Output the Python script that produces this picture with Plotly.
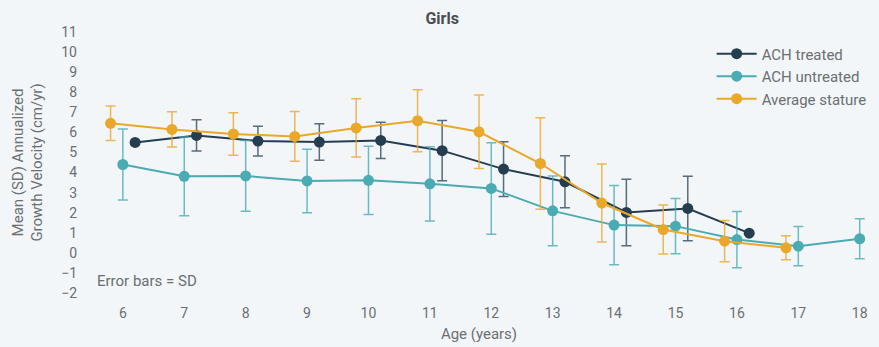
import plotly.graph_objects as go

# Age groups (years)
ages_treated = [6, 7, 8, 9, 10, 11, 12, 13, 14, 15, 16]
ages_untreated = [6, 7, 8, 9, 10, 11, 12, 13, 14, 15, 16, 17, 18]
ages_average = [6, 7, 8, 9, 10, 11, 12, 13, 14, 15, 16, 17]

# Mean annualized growth velocity (cm/yr) and SD
treated_mean = [5.50, 5.85, 5.57, 5.52, 5.60, 5.09, 4.17, 3.54, 2.01, 2.21, 0.98]
treated_sd = [0.0, 0.78, 0.74, 0.91, 0.90, 1.50, 1.36, 1.30, 1.66, 1.61, 0.0]

untreated_mean = [4.40, 3.81, 3.83, 3.58, 3.61, 3.44, 3.21, 2.09, 1.38, 1.33, 0.66, 0.33, 0.70]
untreated_sd = [1.77, 1.96, 1.76, 1.58, 1.70, 1.85, 2.28, 1.74, 1.98, 1.38, 1.40, 0.98, 1.00]

average_mean = [6.45, 6.15, 5.92, 5.80, 6.22, 6.58, 6.03, 4.45, 2.48, 1.16, 0.58, 0.25]
average_sd = [0.86, 0.88, 1.06, 1.24, 1.45, 1.54, 1.83, 2.28, 1.94, 1.22, 1.03, 0.60]

y_ticks = list(range(-2, 12))
x_ticks = list(range(6, 19))

NAVY = "#243d4f"
TEAL = "#4aabb3"
ORANGE = "#e9a82a"
BG = "#f2f6f9"
GREY = "#6b6f72"
FONT = "Roboto, sans-serif"

series = [
    ("ACH treated", ages_treated, treated_mean, treated_sd, NAVY, 0.2, "rgba(36,61,79,0.75)"),
    ("ACH untreated", ages_untreated, untreated_mean, untreated_sd, TEAL, 0.0, "rgba(74,171,179,0.8)"),
    ("Average stature", ages_average, average_mean, average_sd, ORANGE, -0.2, "rgba(233,168,42,0.8)"),
]

fig = go.Figure()
for name, ages, mean, sd, color, dodge, err_color in series:
    fig.add_trace(go.Scatter(
        x=[a + dodge for a in ages],
        y=mean,
        name=name,
        mode="lines+markers",
        line=dict(color=color, width=2),
        marker=dict(color=color, size=11),
        error_y=dict(type="data", array=sd, visible=True, color=err_color,
                     thickness=1.5, width=5),
    ))

fig.add_annotation(
    x=0.012, y=0.04, xref="paper", yref="paper",
    text="Error bars = SD", showarrow=False,
    xanchor="left", yanchor="bottom",
    font=dict(family=FONT, size=15, color=GREY),
)

fig.update_layout(
    width=879, height=347,
    paper_bgcolor=BG, plot_bgcolor=BG,
    margin=dict(l=86, r=7, t=22, b=44, autoexpand=False),
    font=dict(family=FONT, color=GREY, size=14),
    title=dict(text="<b>Girls</b>", x=0.503, xanchor="center", y=0.948, yanchor="middle",
               font=dict(family=FONT, size=16, color="#4a4d50")),
    showlegend=True,
    legend=dict(x=0.796, y=0.945, xanchor="left", yanchor="top",
                bgcolor="rgba(0,0,0,0)", font=dict(family=FONT, size=15, color=GREY),
                tracegroupgap=0, itemwidth=40),
    xaxis=dict(range=[5.4, 18.2], tickvals=x_ticks, showgrid=False, zeroline=False,
               showline=False, ticks="",
               title=dict(text="Age (years)", standoff=8, font=dict(size=15, color=GREY)),
               tickfont=dict(size=14, color=GREY)),
    yaxis=dict(range=[-2.5, 11.5], tickvals=y_ticks, showgrid=False, zeroline=False,
               showline=False, ticks="", ticklabelstandoff=8,
               title=dict(text="Mean (SD) Annualized<br>Growth Velocity (cm/yr)", standoff=14,
                          font=dict(size=15, color=GREY)),
               tickfont=dict(size=14, color=GREY)),
)

fig.write_html("out.html")
